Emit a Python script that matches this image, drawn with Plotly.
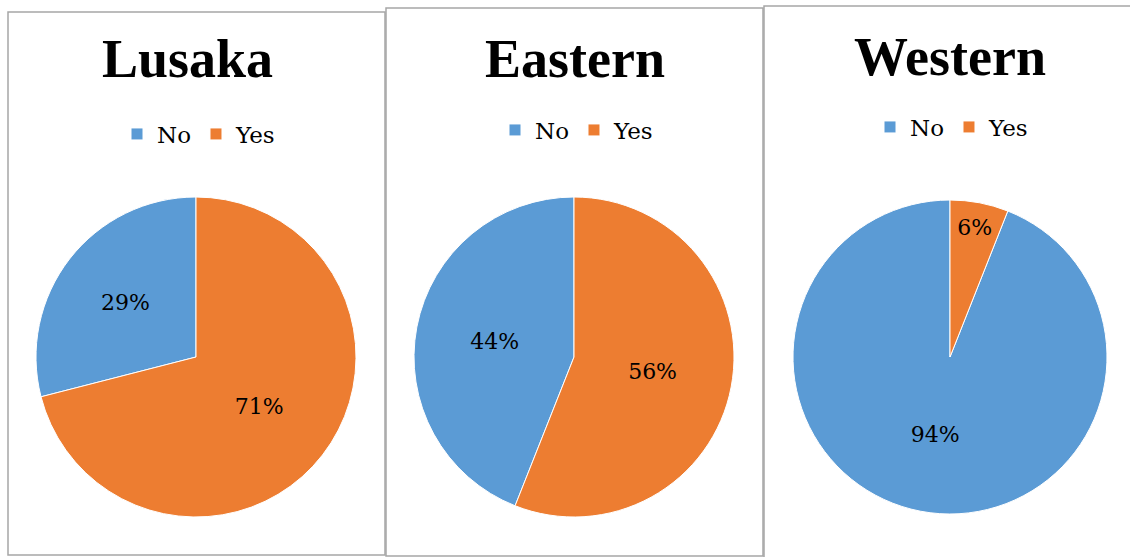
import plotly.graph_objects as go

W, H = 1130, 557

regions = ["Lusaka", "Eastern", "Western"]
labels = ["No", "Yes"]
no_pct = [29, 44, 94]
yes_pct = [71, 56, 6]

colors = ["#5B9BD5", "#ED7D31"]
SERIF = "DejaVu Serif, serif"
TITLE_FONT = "Liberation Serif, serif"

def px(x):
    return x / W

def py(y):
    return 1 - y / H

# pie centres / radii in pixels
centres = [(196, 357, 160), (574, 357, 160), (950, 357, 157)]
title_pos = [(187, 59), (575, 59), (950, 57)]
legend_pos = [(199, 134), (577, 130), (952, 127)]
boxes = [(8, 12, 385, 555), (386, 8, 763, 556), (764, 6, 1132, 600)]

fig = go.Figure()
legend_names = ["legend", "legend2", "legend3"]
for i, reg in enumerate(regions):
    cx, cy, r = centres[i]
    # distinct (invisible) suffix so each pie gets its own legend entries
    lab = [l + "\u200b" * i for l in labels]
    fig.add_trace(go.Pie(
        labels=lab,
        values=[no_pct[i], yes_pct[i]],
        sort=False,
        direction="clockwise",
        rotation=-3.6 * no_pct[i] / (no_pct[i] + yes_pct[i]) * 100,
        marker=dict(colors=colors, line=dict(color="white", width=1)),
        texttemplate="%{value}%",
        textposition="inside",
        insidetextorientation="horizontal",
        textfont=dict(family=SERIF, size=22, color="black"),
        domain=dict(x=[px(cx - r), px(cx + r)], y=[py(cy + r), py(cy - r)]),
        legend=legend_names[i],
        hoverinfo="label+percent",
    ))

layout_kwargs = {}
for i in range(3):
    lx, ly = legend_pos[i]
    layout_kwargs[legend_names[i]] = dict(
        orientation="h",
        x=px(lx), y=py(ly),
        xanchor="center", yanchor="middle",
        font=dict(family=SERIF, size=23, color="black"),
        itemwidth=30,
        bgcolor="rgba(0,0,0,0)",
    )

annotations = []
for i, reg in enumerate(regions):
    tx, ty = title_pos[i]
    annotations.append(dict(
        text=f"<b>{reg}</b>", x=px(tx), y=py(ty), xref="paper", yref="paper",
        xanchor="center", yanchor="middle", showarrow=False,
        font=dict(family=TITLE_FONT, size=54, color="black"),
    ))

shapes = []
for (x0, y0, x1, y1) in boxes:
    shapes.append(dict(
        type="rect", xref="paper", yref="paper",
        x0=px(x0), x1=px(x1), y0=py(y1), y1=py(y0),
        line=dict(color="#A6A6A6", width=1.5), fillcolor="rgba(0,0,0,0)",
        layer="below",
    ))

fig.update_layout(
    width=W, height=H,
    margin=dict(l=0, r=0, t=0, b=0),
    paper_bgcolor="white", plot_bgcolor="white",
    showlegend=True,
    annotations=annotations,
    shapes=shapes,
    **layout_kwargs,
)

fig.write_html(
    "out.html",
    config={"displayModeBar": False},
    post_script="document.body.style.margin='0';document.body.style.overflow='hidden';",
)
